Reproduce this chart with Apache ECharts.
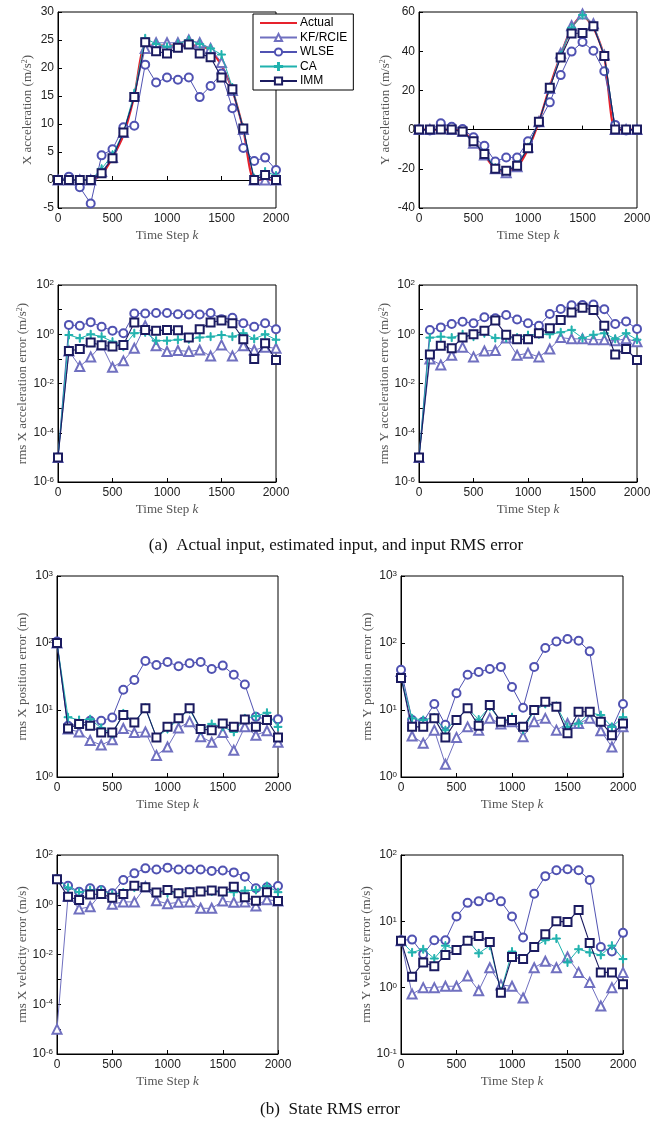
<!DOCTYPE html>
<html>
<head>
<meta charset="utf-8">
<script src="https://cdn.jsdelivr.net/npm/echarts@6/dist/echarts.min.js"></script>
<style>
  html, body { margin: 0; padding: 0; background: #fff; }
  #main { width: 661px; height: 1129px; }
</style>
</head>
<body>
<div id="main"></div>
<script>
// time steps
const steps = [0, 100, 200, 300, 400, 500, 600, 700, 800, 900, 1000, 1100, 1200, 1300, 1400, 1500, 1600, 1700, 1800, 1900, 2000];

// X acceleration
const axActual = [0, 0, 0, 0, 1, 4, 8, 15, 24, 24, 24, 24, 24, 24, 23, 20.5, 16, 9, 0, 0, 0];
const axKF = [0, 0, 0, 0, 1.5, 4, 8.5, 15, 23.5, 24.5, 24.5, 24.5, 25, 24.5, 23.5, 21, 16, 9, 0, 0, 0];
const axWLSE = [0, 0.6, -1.3, -4.2, 4.4, 5.5, 9.4, 9.7, 20.6, 17.4, 18.3, 17.9, 18.3, 14.8, 16.8, 19, 12.8, 5.7, 3.4, 4, 1.8];
const axCA = [0, 0, 0, 0, 2, 4.5, 8.5, 15.5, 25.3, 24.3, 23.8, 24.3, 25, 24.3, 23.5, 22.4, 16.5, 9.3, 0.3, 1.5, 0.8];
const axIMM = [0, 0, 0, 0, 1.2, 3.9, 8.5, 14.8, 24.6, 23, 22.6, 23.6, 24.2, 22.6, 21.9, 18.3, 16.2, 9.2, 0, 0.9, 0];

// Y acceleration
const ayActual = [0, 0, 0, 0, -1, -6, -13, -20, -21, -19, -10, 4, 22, 38, 52, 58, 52, 37, 0, 0, 0];
const ayKF = [0, 0, 0.5, 0, -1, -7, -13, -20, -22, -19, -9, 4, 21, 39, 53, 59, 54, 38, 0, 0, 0];
const ayWLSE = [0, -0.5, 3.2, 1.4, 0.3, -3.9, -8.3, -16.3, -14.2, -14.2, -5.9, 3.6, 13.9, 27.8, 39.8, 44.7, 40.2, 29.8, 2.4, -0.5, -0.2];
const ayCA = [0, 0, 0, 0, -1, -6, -12, -19.5, -21, -18, -9, 4, 21, 38, 52, 58.5, 53, 38, 0, 0, 0];
const ayIMM = [0, 0, 0, 0, -1, -6, -12.5, -20, -21, -18.5, -9.5, 4, 21.4, 36.8, 49, 49.3, 52.7, 37.6, 0, 0, 0];

// rms X acceleration error
const eaxKF = [1e-5, 0.21, 0.049, 0.12, 0.37, 0.046, 0.083, 0.27, 2.2, 0.34, 0.2, 0.22, 0.2, 0.23, 0.13, 0.37, 0.13, 0.34, 0.23, 0.3, 0.27];
const eaxWLSE = [1e-5, 2.4, 2.2, 3.1, 2.0, 1.4, 1.1, 7, 7, 7.3, 7.3, 6.5, 6.3, 6.3, 7.3, 4.1, 4.7, 2.8, 2.0, 2.8, 1.6];
const eaxCA = [1e-5, 0.93, 0.69, 1.0, 0.8, 0.5, 0.31, 1.1, 1.2, 0.55, 0.55, 0.6, 0.63, 0.74, 0.8, 0.93, 0.8, 1.1, 0.65, 1.0, 0.6];
const eaxIMM = [1e-5, 0.21, 0.25, 0.46, 0.36, 0.32, 0.37, 3.0, 1.5, 1.4, 1.5, 1.45, 0.74, 1.6, 3.0, 3.6, 2.8, 0.63, 0.098, 0.43, 0.09];

// rms Y acceleration error
const eayKF = [1e-5, 0.1, 0.057, 0.14, 0.3, 0.12, 0.21, 0.22, 0.7, 0.14, 0.17, 0.12, 0.25, 0.73, 0.65, 0.65, 0.6, 0.6, 0.55, 0.65, 0.5];
const eayWLSE = [1e-5, 1.5, 1.9, 2.6, 3.2, 2.8, 4.9, 4.5, 6.0, 4.0, 2.8, 2.2, 6.6, 10.6, 15, 15.5, 16, 10.3, 2.6, 3.3, 1.65];
const eayCA = [1e-5, 0.73, 0.8, 0.73, 1.0, 0.8, 1.1, 0.7, 0.7, 0.73, 0.93, 1.0, 1.0, 1.2, 1.5, 0.7, 0.95, 1.1, 0.65, 1.1, 0.6];
const eayIMM = [1e-5, 0.15, 0.34, 0.27, 0.73, 1.0, 1.4, 3.6, 0.95, 0.63, 0.63, 1.1, 1.75, 3.8, 7.6, 12, 9.7, 2.2, 0.15, 0.25, 0.09];

// rms X position error
const epxKF = [100, 5.2, 4.7, 3.5, 3.0, 3.6, 5.3, 4.6, 4.7, 2.1, 2.8, 5.4, 6.7, 4.0, 3.3, 4.6, 2.5, 5.6, 4.2, 4.9, 3.3];
const epxWLSE = [105, 5.8, 6.2, 6.9, 6.9, 7.7, 20, 28, 54, 47, 52, 45, 50, 52, 41, 46, 33.5, 24, 7.9, 7.3, 7.3];
const epxCA = [100, 7.8, 7.1, 7.3, 5.4, 4.4, 8.9, 6.5, 10.8, 3.9, 5.2, 7.3, 10.3, 5.0, 6.2, 5.6, 4.7, 7.5, 8.1, 9.1, 5.6];
const epxIMM = [100, 5.3, 6.2, 5.8, 4.6, 4.6, 8.4, 6.5, 10.6, 3.9, 5.6, 7.5, 10.6, 5.2, 5.0, 6.3, 5.6, 7.2, 5.6, 7.1, 3.9];

// rms Y position error
const epyKF = [37.5, 4.1, 3.2, 5.0, 1.55, 3.9, 5.6, 5.0, 7.5, 6.2, 6.7, 4.0, 6.7, 7.5, 5.0, 6.3, 6.3, 7.5, 4.9, 2.8, 5.6];
const epyWLSE = [40, 7.1, 6.7, 12.3, 6.0, 17.8, 33.5, 37, 41, 44, 22, 10.8, 44, 84, 105, 115, 108, 75, 6.7, 5.3, 12.3];
const epyCA = [30, 7.5, 7.1, 7.7, 5.0, 7.2, 10.6, 7.2, 11.2, 6.7, 7.8, 5.1, 9.7, 12.3, 11.5, 5.6, 6.3, 9.1, 8.4, 5.6, 7.8];
const epyIMM = [30, 5.6, 5.6, 7.5, 3.9, 7.1, 10.6, 5.8, 11.9, 6.7, 7.1, 5.6, 10, 13.3, 11.2, 4.5, 9.4, 9.4, 6.7, 4.2, 6.3];

// rms X velocity error
const evxKF = [1e-5, 2.2, 0.68, 0.83, 2.9, 1.05, 1.3, 1.3, 5.3, 1.45, 1.1, 1.25, 1.3, 0.72, 0.72, 1.4, 1.25, 1.3, 0.9, 1.6, 1.4];
const evxWLSE = [10.5, 5.8, 3.35, 4.6, 3.9, 2.9, 9.9, 18.3, 29, 26, 31, 26, 26, 26, 23, 24, 20, 13.4, 4.6, 5.0, 5.7];
const evxCA = [10.5, 4.9, 3.2, 3.9, 3.9, 2.6, 3.1, 4.9, 5.3, 3.1, 2.9, 3.1, 3.4, 3.4, 3.4, 3.2, 3.2, 3.7, 3.9, 5.7, 3.2];
const evxIMM = [10.5, 2.1, 1.55, 2.6, 2.7, 1.9, 2.7, 5.8, 5.0, 3.1, 3.9, 2.9, 3.2, 3.4, 3.7, 3.4, 5.3, 2.0, 1.45, 3.2, 1.4];

// rms Y velocity error
const evyKF = [5.1, 0.8, 1.0, 1.0, 1.05, 1.05, 1.5, 0.9, 2.0, 1.1, 1.05, 0.7, 2.0, 2.5, 2.0, 2.9, 1.7, 1.2, 0.53, 1.0, 1.7];
const evyWLSE = [5.2, 5.3, 3.2, 5.2, 5.2, 11.8, 19, 20, 23, 20, 11.8, 5.7, 26, 48, 59, 61, 59, 42, 4.1, 3.5, 6.7];
const evyCA = [5.1, 3.4, 3.8, 2.75, 4.3, 3.7, 5.2, 3.3, 4.3, 0.88, 3.5, 2.7, 4.1, 5.2, 5.5, 2.4, 3.8, 3.4, 3.1, 4.3, 2.7];
const evyIMM = [5.1, 1.46, 2.4, 2.1, 3.1, 3.7, 5.1, 6.0, 4.9, 0.84, 2.9, 2.7, 4.1, 6.4, 10, 9.8, 14.8, 4.7, 1.7, 1.7, 1.13];

const names = ['Actual', 'KF/RCIE', 'WLSE', 'CA', 'IMM'];

// styles per method
const styles = {
  'Actual': { color: '#e6222c', symbol: 'none', width: 2.2, size: 0 },
  'KF/RCIE': { color: '#7070c0', symbol: 'emptyTriangle', width: 1, size: 9 },
  'WLSE': { color: '#5052b2', symbol: 'emptyCircle', width: 1, size: 8 },
  'CA': { color: '#20b2ae', symbol: 'path://M4,0h1.2v4h4v1.2h-4v4h-1.2v-4h-4v-1.2h4z', width: 1, size: 8 },
  'IMM': { color: '#1b1b60', symbol: 'emptyRect', width: 1.1, size: 8 }
};

// grid layout
const grids = [
  { left: 58, top: 12, width: 218, height: 196 },
  { left: 419, top: 12, width: 218, height: 196 },
  { left: 58, top: 285, width: 218, height: 197 },
  { left: 419, top: 285, width: 218, height: 197 },
  { left: 57, top: 576, width: 221, height: 201 },
  { left: 401, top: 576, width: 222, height: 201 },
  { left: 57, top: 855, width: 221, height: 199 },
  { left: 401, top: 855, width: 222, height: 199 }
];

const plots = [
  { name: 'X acceleration (m/s{s|2})', type: 'value', min: -5, max: 30, interval: 5, gap: 24, data: [axActual, axKF, axWLSE, axCA, axIMM] },
  { name: 'Y acceleration (m/s{s|2})', type: 'value', min: -40, max: 60, interval: 20, gap: 27, data: [ayActual, ayKF, ayWLSE, ayCA, ayIMM] },
  { name: 'rms X acceleration error (m/s{s|2})', type: 'log', min: 1e-6, max: 1e2, every: 2, gap: 29, data: [null, eaxKF, eaxWLSE, eaxCA, eaxIMM] },
  { name: 'rms Y acceleration error (m/s{s|2})', type: 'log', min: 1e-6, max: 1e2, every: 2, gap: 28, data: [null, eayKF, eayWLSE, eayCA, eayIMM] },
  { name: 'rms X position error (m)', type: 'log', min: 1, max: 1e3, every: 1, gap: 28, data: [null, epxKF, epxWLSE, epxCA, epxIMM] },
  { name: 'rms Y position error (m)', type: 'log', min: 1, max: 1e3, every: 1, gap: 27, data: [null, epyKF, epyWLSE, epyCA, epyIMM] },
  { name: 'rms X velocity error (m/s)', type: 'log', min: 1e-6, max: 1e2, every: 2, gap: 28, data: [null, evxKF, evxWLSE, evxCA, evxIMM] },
  { name: 'rms Y velocity error (m/s)', type: 'log', min: 0.1, max: 1e2, every: 1, gap: 26, data: [null, evyKF, evyWLSE, evyCA, evyIMM] }
];

const serif = '"Liberation Serif", "DejaVu Serif", serif';
const sans = '"Liberation Sans", Arial, sans-serif';

const xAxes = [];
const yAxes = [];
const series = [];

plots.forEach((p, i) => {
  xAxes.push({
    gridIndex: i,
    type: 'value',
    min: 0, max: 2000, interval: 500,
    name: 'Time Step {i|k}',
    nameLocation: 'middle',
    nameGap: 21,
    nameTextStyle: { fontFamily: serif, fontSize: 13, color: '#555', rich: { i: { fontFamily: serif, fontStyle: 'italic', fontSize: 13, color: '#555' } } },
    axisLine: { lineStyle: { color: '#000', width: 1 } },
    axisTick: { inside: true, length: 4, lineStyle: { color: '#000' } },
    axisLabel: { color: '#222', fontFamily: sans, fontSize: 12, margin: 5, formatter: v => String(v) },
    splitLine: { show: false }
  });
  const y = {
    gridIndex: i,
    type: p.type,
    min: p.min, max: p.max,
    name: p.name,
    nameLocation: 'middle',
    nameGap: p.gap,
    nameTextStyle: { fontFamily: serif, fontSize: 13, color: '#555', rich: { s: { fontFamily: serif, fontSize: 8, color: '#555', verticalAlign: 'top', lineHeight: 10 } } },
    axisLine: { lineStyle: { color: '#000', width: 1 } },
    axisTick: { inside: true, length: 4, lineStyle: { color: '#000' } },
    axisLabel: { color: '#222', fontFamily: sans, fontSize: 12, margin: 4 },
    splitLine: { show: false }
  };
  if (p.type === 'log') {
    y.logBase = 10;
    const every = p.every;
    y.axisLabel.formatter = v => {
      const e = Math.round(Math.log10(v));
      return e % every === 0 ? '10{e|' + e + '}' : '';
    };
    y.axisLabel.rich = { e: { fontFamily: sans, fontSize: 8, color: '#222', verticalAlign: 'top', lineHeight: 10 } };
  } else {
    y.interval = p.interval;
  }
  yAxes.push(y);

  p.data.forEach((vals, k) => {
    if (!vals) return;
    const nm = names[k];
    const st = styles[nm];
    series.push({
      name: nm,
      type: 'line',
      xAxisIndex: i,
      yAxisIndex: i,
      data: steps.map((s, j) => [s, vals[j]]),
      symbol: st.symbol,
      symbolSize: st.size,
      showAllSymbol: true,
      smooth: nm === 'Actual' ? 0.25 : false,
      lineStyle: { color: st.color, width: st.width },
      itemStyle: { color: st.color, borderColor: st.color, borderWidth: 1 },
      emphasis: { disabled: true },
      animation: false,
      z: 2 + k
    });
  });
});

const chart = echarts.init(document.getElementById('main'), null, { renderer: 'canvas' });
chart.setOption({
  backgroundColor: '#fff',
  animation: false,
  grid: grids.map(g => Object.assign({ show: true, borderColor: '#000', borderWidth: 1, backgroundColor: 'transparent' }, g)),
  xAxis: xAxes,
  yAxis: yAxes,
  legend: {
    data: [{ name: 'Actual', itemStyle: { opacity: 0 } }, 'KF/RCIE', 'WLSE', 'CA', 'IMM'],
    orient: 'vertical',
    left: 253,
    top: 14,
    itemWidth: 37,
    itemHeight: 9,
    itemGap: 2.5,
    padding: [3, 6, 3, 6],
    borderColor: '#000',
    borderWidth: 1,
    backgroundColor: '#fff',
    selectedMode: false,
    textStyle: { fontFamily: sans, fontSize: 12, color: '#000', padding: [0, 0, 0, -2] }
  },
  graphic: [
    { type: 'text', x: 336, y: 546, style: { text: '(a)  Actual input, estimated input, and input RMS error', font: '17px ' + serif, fill: '#111', textAlign: 'center', textVerticalAlign: 'middle' } },
    { type: 'text', x: 330, y: 1110, style: { text: '(b)  State RMS error', font: '17px ' + serif, fill: '#111', textAlign: 'center', textVerticalAlign: 'middle' } }
  ],
  series: series
});
</script>
</body>
</html>
